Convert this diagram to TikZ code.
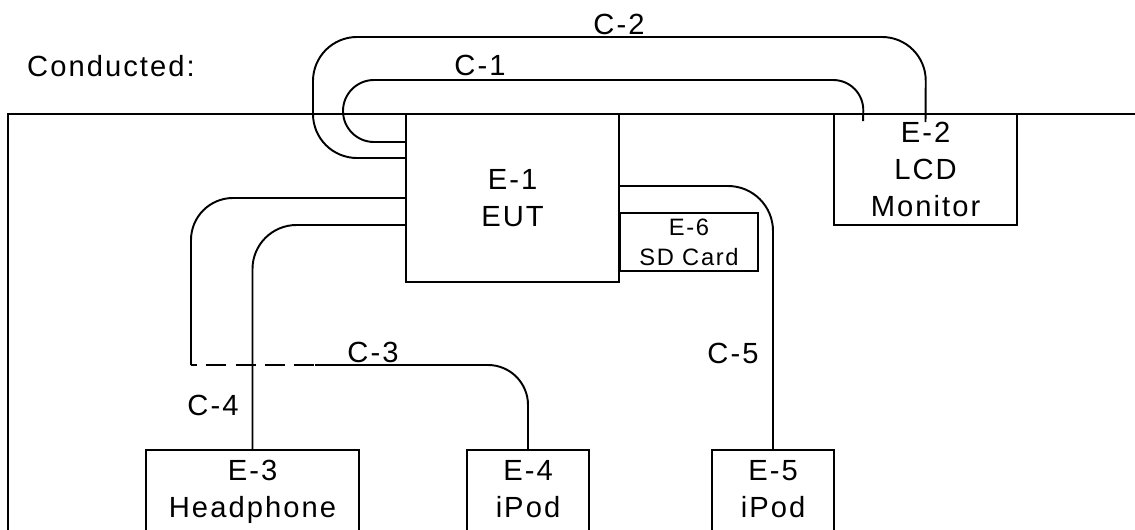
\documentclass[tikz,border=0pt]{standalone}
\usepackage{fontspec}
\setmainfont{Liberation Sans}[LetterSpace=7]

\begin{document}
\begin{tikzpicture}[x=0.02cm, y=-0.02cm, line width=1.1pt, font=\fontsize{16.6}{21}\selectfont,
		eqbox/.style={draw, inner sep=0pt, align=center},
		floorbox/.style={anchor=north, inner ysep=6pt, text depth=2cm},
		splice/.style={line width=1.7pt, dash pattern=on 11.3pt off 5.4pt, dash phase=7.9pt}]
		\useasboundingbox (0, 0) rectangle (1135, 530);
		\clip (0, 0) rectangle (1135, 530);
		% table edge, open to the right and to the bottom
		\draw (8, 560) -- (8, 114) -- (1160, 114);
		\node (cond) at (111, 66) {Conducted:};
		% equipment on the table
		\node [eqbox, minimum width=4.26cm, minimum height=3.36cm] (eut) at (512.5, 198) {E-1\\EUT};
		\node [eqbox, minimum width=2.76cm, minimum height=1.16cm, font=\fontsize{13.5}{17}\selectfont] (sd) at (689, 242) {E-6\\SD Card};
		\node [eqbox, minimum width=3.66cm, minimum height=2.22cm] (lcd) at (925.5, 169.5) {E-2\\LCD\\Monitor};
		\node [eqbox, floorbox, minimum width=4.26cm] (hp) at (252.5, 449) {E-3\\Headphone};
		\node [eqbox, floorbox, minimum width=2.44cm] (ipodA) at (528, 449) {E-4\\iPod};
		\node [eqbox, floorbox, minimum width=2.44cm] (ipodB) at (773, 449) {E-5\\iPod};
		% C-1 and C-2 loop over the EUT into the monitor
		\coordinate (c1end) at ([xshift=0.6cm, yshift=-0.16cm]lcd.north west);
		\draw [rounded corners=0.62cm] (eut.west |- 0,142) -- (343, 142) -- (343, 80) -- (864, 80) [rounded corners=0.4cm] -- (c1end);
		\draw [rounded corners=0.88cm] (eut.west |- 0,158) -- (313, 158) -- (313, 37) -- (926, 37) [rounded corners=0.62cm] -- ([yshift=-0.18cm]lcd.north);
		\node (c1) at (480, 65) {C-1};
		\node (c2) at (619, 24) {C-2};
		% C-3 with its dashed stretch
		\coordinate (c3a) at (191, 365);
		\coordinate (c3b) at (315, 365);
		\draw [rounded corners=0.84cm] (eut.west |- 0,198) -| (c3a);
		\draw [splice] (c3a) -- (c3b);
		\draw [rounded corners=0.8cm] (c3b) -| (ipodA.north);
		\node (c3) at (373, 352) {C-3};
		% C-4 and C-5
		\draw [rounded corners=0.88cm] (eut.west |- 0,225) -| (hp.north);
		\node (c4) at (213, 405) {C-4};
		\draw [rounded corners=0.9cm] (eut.east |- 0,186) -| (ipodB.north);
		\node (c5) at (733, 353) {C-5};
	\end{tikzpicture}
\end{document}
